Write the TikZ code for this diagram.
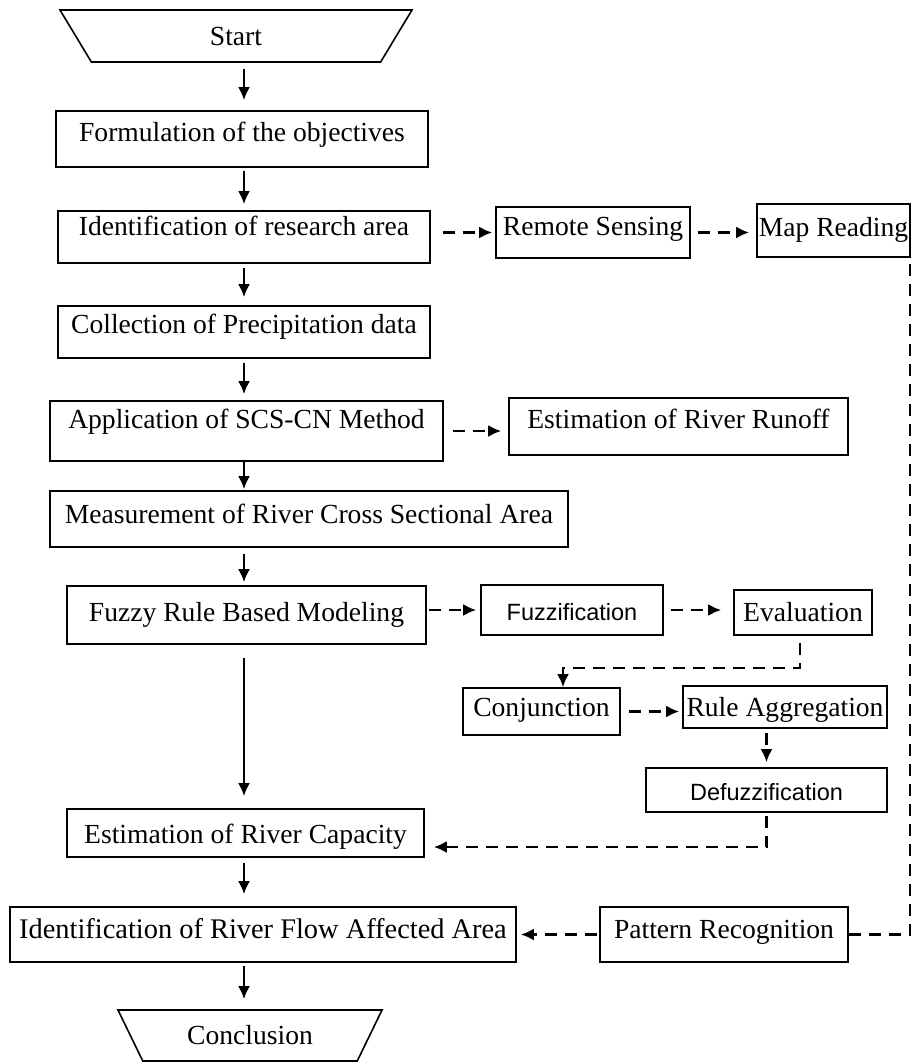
\documentclass[tikz,border=0pt]{standalone}
\usepackage{fontspec}
\setmainfont{Liberation Serif}
\newfontfamily\arialfont{Liberation Sans}
\usetikzlibrary{shapes.geometric, arrows.meta}

\begin{document}
\begin{tikzpicture}[
    x = 1pt, y = -1pt,
    box/.style n args = {3}{rectangle, draw, line width=1.6pt, inner xsep=0pt, inner ysep=0pt, minimum width=#1, text height=#2, text depth=#3, font=\fontsize{27.6pt}{32pt}\selectfont},
    sansbox/.style = {font=\arialfont\fontsize{23.5pt}{28pt}\selectfont},
    terminal/.style = {trapezium, draw, line width=1.6pt, trapezium stretches body, inner sep=0pt, font=\fontsize{27.6pt}{32pt}\selectfont},
    arrow/.style = {line width=2.4pt, -{Latex[length=13pt, width=12pt]}},
    dasharrow/.style = {arrow, dash pattern=on 12pt off 8pt},
    dashline/.style = {line width=2.4pt, dash pattern=on 12pt off 8pt}
]
    \useasboundingbox (0,0) rectangle (912,1063);

    % Nodes
    \node (start) [terminal, trapezium left angle=149.4, trapezium right angle=149.4, minimum width=352pt, minimum height=52pt] at (236,36) {Start};
    \node (formul) [box={372pt}{30.3pt}{25.7pt}] at (242,139) {Formulation of the objectives};
    \node (research) [box={372pt}{24.3pt}{27.7pt}] at (244,237) {Identification of research area};
    \node (remote) [box={194pt}{28.3pt}{22.7pt}] at (593,232.5) {Remote Sensing};
    \node (mapread) [box={153pt}{32.3pt}{20.7pt}] at (833.5,230.5) {Map Reading};
    \node (collect) [box={372pt}{27.3pt}{24.7pt}] at (244,332) {Collection of Precipitation data};
    \node (scscn) [box={393pt}{27.3pt}{32.7pt}] at (246.5,431) {Application of SCS-CN Method};
    \node (runoff) [box={339pt}{30.3pt}{26.7pt}] at (678.5,426.5) {Estimation of River Runoff};
    \node (measure) [box={518pt}{32.3pt}{23.7pt}] at (309,519) {Measurement of River Cross Sectional Area};
    \node (fuzzy) [box={359pt}{35.3pt}{22.7pt}] at (246.5,615) {Fuzzy Rule Based Modeling};
    \node (fuzzif) [box={182pt}{35pt}{15pt}, sansbox] at (572,610) {Fuzzification};
    \node (evalu) [box={138pt}{31.3pt}{13.7pt}] at (803,612.5) {Evaluation};
    \node (conj) [box={157pt}{28.3pt}{18.7pt}] at (541.5,711.5) {Conjunction};
    \node (ruleagg) [box={204pt}{30.3pt}{11.7pt}] at (785,707) {Rule Aggregation};
    \node (defuzz) [box={241pt}{32pt}{12pt}, sansbox] at (766.5,790) {Defuzzification};
    \node (capacity) [box={357pt}{34.3pt}{13.7pt}] at (245.5,833) {Estimation of River Capacity};
    \node (affected) [box={506pt}{31.3pt}{23.7pt}, font=\fontsize{28.4pt}{32pt}\selectfont] at (263,934.5) {Identification of River Flow Affected Area};
    \node (pattern) [box={248pt}{31.3pt}{23.7pt}] at (724,934.5) {Pattern Recognition};
    \node (concl) [terminal, trapezium left angle=141.9, trapezium right angle=141.9, minimum width=264pt, minimum height=51pt] at (250,1035.5) {Conclusion};
    \coordinate (axis) at (244,0);

    % Arrows
    \draw [arrow, shorten <=6pt, shorten >=10pt] (start.south -| axis) -- (formul.north -| axis);
    \draw [arrow, shorten <=3pt, shorten >=6pt] (formul.south -| axis) -- (research.north -| axis);
    \draw [arrow, shorten <=4pt, shorten >=8pt] (research.south -| axis) -- (collect.north -| axis);
    \draw [arrow, shorten <=4pt, shorten >=6pt] (collect.south -| axis) -- (scscn.north -| axis);
    \draw [arrow, shorten >=1pt] (scscn.south -| axis) -- (measure.north -| axis);
    \draw [arrow, shorten <=6pt, shorten >=3pt] (measure.south -| axis) -- (fuzzy.north -| axis);
    \draw [arrow, shorten <=13pt, shorten >=12pt] (fuzzy.south -| axis) -- (capacity.north -| axis);
    \draw [arrow, shorten <=5pt, shorten >=12pt] (capacity.south -| axis) -- (affected.north -| axis);
    \draw [arrow, shorten <=3pt, shorten >=10pt] (affected.south -| axis) -- (concl.north -| axis);

    % Dashed side branches
    \draw [dasharrow, shorten <=12pt, shorten >=3pt] (remote.west -| research.east) -- (remote.west);
    \draw [dasharrow, shorten <=7pt, shorten >=7pt] (remote.east) -- (remote.east -| mapread.west);
    \draw [dasharrow, shorten <=9pt, shorten >=7pt] (scscn.east) -- (scscn.east -| runoff.west);
    \draw [dasharrow, shorten <=2pt, shorten >=4pt] (fuzzif.west -| fuzzy.east) -- (fuzzif.west);
    \draw [dasharrow, shorten <=7pt, shorten >=12pt] (fuzzif.east) -- (fuzzif.east -| evalu.west);
    \draw [dasharrow, shorten <=7pt] ([xshift=-3pt]evalu.south) -- ++(0,32) -| ([xshift=21.5pt]conj.north);
    \draw [dasharrow, shorten <=8pt, shorten >=3pt] (conj.east) -- (conj.east -| ruleagg.west);
    \draw [dasharrow, shorten <=4pt, shorten >=5pt] (ruleagg.south -| defuzz.north) -- (defuzz.north);
    \draw [dasharrow, shorten <=3pt, shorten >=9pt] (defuzz.south) |- ([yshift=-14pt]capacity.east);
    \draw [dasharrow, shorten <=2pt, shorten >=4pt] (pattern.west) -- (affected.east);
    \draw [dashline, shorten <=6pt] ([xshift=-1pt]mapread.south east) |- (pattern.east);

\end{tikzpicture}
\end{document}
